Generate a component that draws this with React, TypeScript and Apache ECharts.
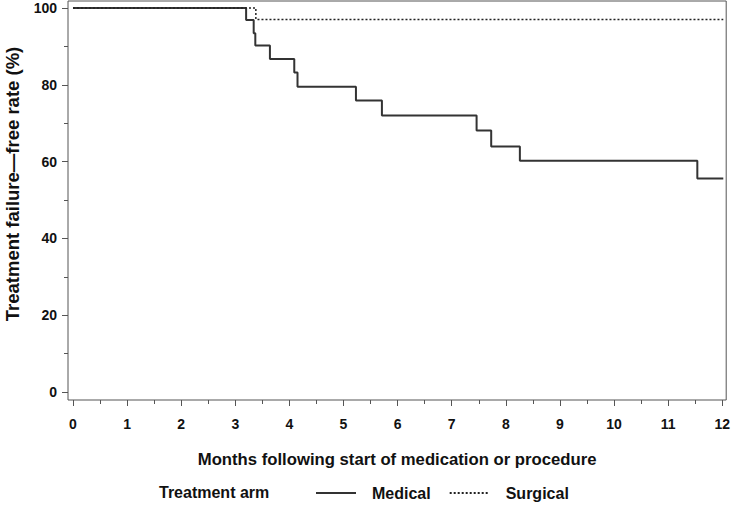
import React, { useEffect, useRef } from "react";
import * as echarts from "echarts";

const medicalTimes = [0, 3.2, 3.34, 3.37, 3.64, 4.09, 4.15, 5.23, 5.71, 7.46, 7.73, 8.26, 11.54, 12.02];
const medicalValues = [100, 96.9, 93.4, 90.2, 86.7, 83.2, 79.5, 75.9, 72.0, 68.1, 63.9, 60.2, 55.6, 55.6];
const surgicalTimes = [0, 3.38, 12.02];
const surgicalValues = [100, 97.0, 97.0];
const seriesNames = ["Medical", "Surgical"];
const xTicks = [0, 1, 2, 3, 4, 5, 6, 7, 8, 9, 10, 11, 12];
const xMinorTicks = [0.5, 1.5, 2.5, 3.5, 4.5, 5.5, 6.5, 7.5, 8.5, 9.5, 10.5, 11.5];
const yTicks = [0, 20, 40, 60, 80, 100];
const yMinorTicks = [10, 30, 50, 70, 90];
const legendTitle = "Treatment arm";
const xName = "Months following start of medication or procedure";
const yName = "Treatment failure—free rate (%)";

const FONT = "'Liberation Sans', Arial, sans-serif";

// axis extents (frame is slightly larger than the 0..12 / 0..100 ranges)
const X_MIN = -0.0922;
const X_MAX = 12.0737;
const Y_MIN = -2.083;
const Y_MAX = 101.82;

export default function App() {
  const ref = useRef<HTMLDivElement>(null);
  useEffect(() => {
    if (!ref.current) return;
    const chart = echarts.init(ref.current, undefined, { renderer: "svg" });
    const med = medicalTimes.map((t, i) => [t, medicalValues[i]]);
    const sur = surgicalTimes.map((t, i) => [t, surgicalValues[i]]);
    const axisColor = "#555";
    const labelStyle = { fontFamily: FONT, fontSize: 14, fontWeight: "bold", color: "#111" };
    const hiddenLine = { show: false, onZero: false };
    chart.setOption({
      animation: false,
      backgroundColor: "#fff",
      textStyle: { fontFamily: FONT },
      grid: { left: 68, right: 5, top: 1, bottom: 105, show: true, borderColor: axisColor, borderWidth: 1 },
      xAxis: [
        {
          type: "value",
          min: X_MIN,
          max: X_MAX,
          name: xName,
          nameLocation: "middle",
          nameGap: 51,
          nameTextStyle: { fontFamily: FONT, fontSize: 16.7, fontWeight: "bold", color: "#111" },
          axisLine: hiddenLine,
          axisTick: { show: true, length: 6, customValues: xTicks, lineStyle: { color: axisColor } },
          splitLine: { show: false },
          axisLabel: { margin: 17, customValues: xTicks, ...labelStyle },
        },
        {
          type: "value",
          position: "bottom",
          min: X_MIN,
          max: X_MAX,
          axisLine: hiddenLine,
          axisTick: { show: true, length: 4, customValues: xMinorTicks, lineStyle: { color: axisColor } },
          splitLine: { show: false },
          axisLabel: { show: false },
        },
      ],
      yAxis: [
        {
          type: "value",
          min: Y_MIN,
          max: Y_MAX,
          axisLine: hiddenLine,
          axisTick: { show: true, length: 6, customValues: yTicks, lineStyle: { color: axisColor } },
          splitLine: { show: false },
          axisLabel: { margin: 11, customValues: yTicks, ...labelStyle },
        },
        {
          type: "value",
          position: "left",
          min: Y_MIN,
          max: Y_MAX,
          axisLine: hiddenLine,
          axisTick: { show: true, length: 4, customValues: yMinorTicks, lineStyle: { color: axisColor } },
          splitLine: { show: false },
          axisLabel: { show: false },
        },
      ],
      legend: {
        left: 315,
        top: 485,
        padding: 0,
        itemWidth: 40,
        itemHeight: 14,
        itemGap: 18,
        data: seriesNames,
        itemStyle: { opacity: 0, color: "rgba(0,0,0,0)", borderWidth: 0 },
        textStyle: { fontFamily: FONT, fontSize: 16, fontWeight: "bold", color: "#111", padding: [0, 0, 0, 11] },
      },
      graphic: [
        {
          type: "text",
          x: 12,
          y: 184,
          rotation: Math.PI / 2,
          style: {
            text: yName,
            font: `bold 18.5px ${FONT}`,
            fill: "#111",
            align: "center",
            verticalAlign: "middle",
          },
        },
        {
          type: "text",
          x: 159,
          y: 492,
          style: { text: legendTitle, font: `bold 16px ${FONT}`, fill: "#111", verticalAlign: "middle" },
        },
      ],
      series: [
        {
          name: seriesNames[0],
          type: "line",
          step: "end",
          data: med,
          symbol: "none",
          clip: false,
          lineStyle: { color: "#333", width: 2 },
          itemStyle: { color: "#333" },
        },
        {
          name: seriesNames[1],
          type: "line",
          step: "end",
          data: sur,
          symbol: "none",
          clip: false,
          z: 3,
          lineStyle: { color: "#222", width: 1.5, type: [2, 2] },
          itemStyle: { color: "#222" },
        },
      ],
    });
    return () => chart.dispose();
  }, []);
  return <div ref={ref} style={{ position: "fixed", left: 0, top: 0, width: 733, height: 505 }} />;
}
